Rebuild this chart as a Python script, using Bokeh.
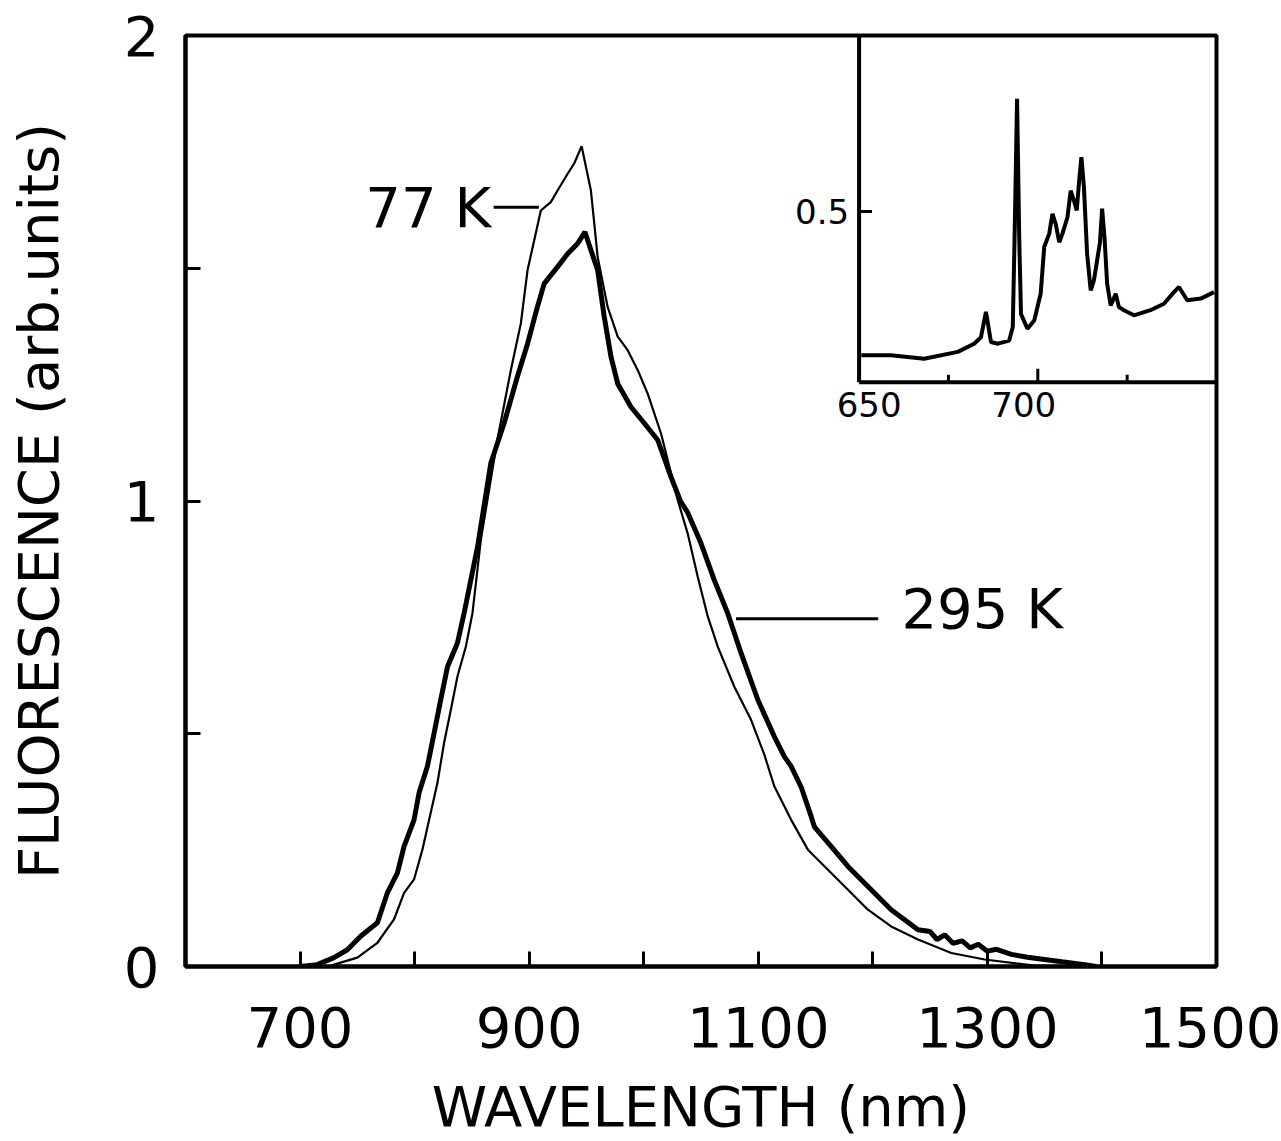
from bokeh.plotting import figure
from bokeh.models import Range1d, FixedTicker
from bokeh.core.properties import value
from bokeh.embed import file_html
from bokeh.resources import INLINE

# ---------------- data ----------------
# 295 K (thick line)
wl_295 = [700, 715, 729.6, 741.3, 752.9, 767.5, 776.2, 785, 790.8, 799.5, 803.9, 811.2, 817,
          822.8, 828.7, 837.4, 843.2, 855, 866.5, 878.1, 889.7, 898.6, 907.2, 913.1, 924.8,
          933.6, 942.3, 948.7, 953.9, 959.8, 965.5, 971.4, 977.3, 988.9, 1000.5, 1012.2,
          1023.8, 1032, 1038.4, 1050, 1061.6, 1073.3, 1085, 1099.6, 1114, 1122.8, 1128.7,
          1137.5, 1146.1, 1149, 1163.6, 1178.3, 1198.6, 1216, 1239.4, 1250, 1256, 1262.7,
          1270, 1278, 1285, 1292, 1300, 1308, 1320.9, 1335, 1350, 1365, 1385, 1395]
fl_295 = [0.0, 0.004, 0.019, 0.036, 0.065, 0.094, 0.158, 0.201, 0.258, 0.315, 0.373, 0.43, 0.501,
          0.573, 0.644, 0.695, 0.759, 0.902, 1.081, 1.167, 1.267, 1.338, 1.417, 1.467, 1.503,
          1.531, 1.553, 1.578, 1.539, 1.496, 1.396, 1.31, 1.252, 1.202, 1.167, 1.131,
          1.052, 1.0, 0.975, 0.909, 0.83, 0.759, 0.673, 0.573, 0.494, 0.451, 0.43,
          0.385, 0.323, 0.30, 0.258, 0.215, 0.165, 0.122, 0.079, 0.075, 0.058, 0.068,
          0.05, 0.055, 0.04, 0.048, 0.033, 0.037, 0.026, 0.02, 0.015, 0.01, 0.004, 0.0]

# 77 K (thin line)
wl_77 = [725, 729.6, 750, 767.5, 782, 790.8, 799.5, 806.8, 814, 819.9, 825.7, 831.6, 837.4,
         844.7, 850.5, 857.8, 872.2, 884, 892.7, 898.6, 910.2, 918.9, 924.8, 933.6, 939.3,
         945.8, 953.9, 959.8, 968.5, 977.3, 986, 994.8, 1003.4, 1015.1, 1029.7, 1038.4,
         1047.1, 1055.9, 1064.6, 1079.1, 1093.7, 1105.3, 1114, 1128.7, 1143.3, 1160.8,
         1178.3, 1195.7, 1216, 1239.4, 1268.5, 1297.6, 1341.3, 1390]
fl_77 = [0.0, 0.004, 0.019, 0.051, 0.101, 0.158, 0.187, 0.251, 0.33, 0.394, 0.48, 0.551, 0.623,
         0.687, 0.759, 0.916, 1.131, 1.281, 1.381, 1.496, 1.624, 1.642, 1.667, 1.703, 1.725,
         1.762, 1.667, 1.524, 1.417, 1.353, 1.324, 1.281, 1.231, 1.145, 1.002, 0.93,
         0.838, 0.752, 0.687, 0.601, 0.53, 0.455, 0.387, 0.315, 0.251, 0.208,
         0.165, 0.122, 0.086, 0.058, 0.029, 0.015, 0.002, 0.0]

# inset spectrum
wl_inset = [650.6, 658.9, 668.2, 677.6, 682.2, 684.1, 685.5, 686.9, 688.8, 692.0, 693.0, 693.6,
            694.2, 694.8, 695.3, 697.1, 699.0, 700.8, 701.8, 703.2, 704.1, 705.0, 706.0, 706.9,
            708.3, 709.2, 710.1, 710.9, 711.5, 712.2, 712.9, 713.8, 714.8, 715.7, 716.6, 717.4,
            718.0, 718.7, 719.4, 720.4, 721.8, 722.7, 724.1, 726.9, 731.5, 735.3, 738.1, 739.5,
            741.8, 745.6, 749.3]
fl_inset = [0.079, 0.079, 0.069, 0.089, 0.113, 0.132, 0.206, 0.118, 0.113, 0.122, 0.162, 0.474,
            0.830, 0.425, 0.200, 0.157, 0.181, 0.259, 0.396, 0.435, 0.493, 0.464, 0.410, 0.435,
            0.483, 0.561, 0.532, 0.503, 0.581, 0.659, 0.572, 0.376, 0.269, 0.298, 0.357, 0.410,
            0.508, 0.418, 0.289, 0.225, 0.259, 0.220, 0.211, 0.196, 0.211, 0.230, 0.264, 0.279,
            0.240, 0.245, 0.264]

x_ticks = [700, 900, 1100, 1300, 1500]
x_minor = [800, 1000, 1200, 1400]
y_ticks = [0, 1, 2]
y_minor = [0.5, 1.5]
inset_x_ticks = [675, 700, 725]
inset_x_labels = [650, 700]
inset_y_ticks = [0.5]
labels = ["77 K", "295 K"]

FONT = "DejaVu Sans"

# ---------------- main figure ----------------
p = figure(width=1281, height=1141, x_range=Range1d(600, 1500), y_range=Range1d(0, 2),
           output_backend="svg", toolbar_location=None,
           min_border_left=185, min_border_right=65, min_border_top=35, min_border_bottom=174)
p.grid.visible = False
p.background_fill_color = "white"
p.border_fill_color = "white"
p.outline_line_color = "black"
p.outline_line_width = 4

p.xaxis.ticker = FixedTicker(ticks=x_ticks, minor_ticks=x_minor)
p.yaxis.ticker = FixedTicker(ticks=y_ticks, minor_ticks=y_minor)
for ax in (p.xaxis[0], p.yaxis[0]):
    ax.axis_line_width = 4
    ax.major_tick_in = 15
    ax.major_tick_out = 0
    ax.minor_tick_in = 15
    ax.minor_tick_out = 0
    ax.major_tick_line_width = 3
    ax.minor_tick_line_width = 3
    ax.major_label_text_font = FONT
    ax.major_label_text_font_size = "56px"
    ax.major_label_text_color = "black"
    ax.axis_label_text_font = FONT
    ax.axis_label_text_font_size = "56px"
    ax.axis_label_text_font_style = "normal"
    ax.axis_label_text_color = "black"

p.xaxis.axis_label = "WAVELENGTH (nm)"
p.xaxis.major_label_standoff = 40
p.xaxis.axis_label_standoff = 24
p.yaxis.axis_label = "FLUORESCENCE (arb.units)"
p.yaxis.major_label_standoff = 26
p.yaxis.axis_label_standoff = 50
p.yaxis.major_label_orientation = "horizontal"

p.line(wl_77, fl_77, line_color="black", line_width=2.2)
p.line(wl_295, fl_295, line_color="black", line_width=5)

# curve labels with leader lines
p.text(x=[757, 1225], y=[1.631, 0.770], text=labels, text_font=value(FONT),
       text_font_size="56px", text_baseline="middle", text_align="left", text_color="black")
p.segment(x0=[869, 1080.6], y0=[1.631, 0.747], x1=[908.5, 1204.7], y1=[1.631, 0.747],
          line_color="black", line_width=3)

# ---------------- inset ----------------
ix = Range1d(650, 750)
iy = Range1d(0, 1.015)
ins = p.subplot(x_source=ix, y_source=iy,
                x_target=Range1d(1188, 1500), y_target=Range1d(1.255, 2.0))
# inset frame (left and bottom edges)
ins.segment(x0=[ix.start, ix.start], y0=[iy.start, iy.start], x1=[ix.start, ix.end],
            y1=[iy.end, iy.start], line_color="black", line_width=4)
# inset ticks
ins.segment(x0=inset_x_ticks, y0=[0] * 3, x1=inset_x_ticks, y1=[0.022, 0.04, 0.022],
            line_color="black", line_width=3)
ins.segment(x0=[ix.start], y0=inset_y_ticks, x1=[ix.start + 3.6], y1=inset_y_ticks,
            line_color="black", line_width=3)
ins.text(x=inset_x_labels, y=[0, 0], text=[str(v) for v in inset_x_labels],
         text_font=value(FONT), text_font_size="34px", text_align="center",
         text_baseline="top", y_offset=10, x_offset=[10, -14], text_color="black")
ins.text(x=[ix.start], y=inset_y_ticks, text=["0.5"], text_font=value(FONT),
         text_font_size="34px", text_align="right", text_baseline="middle",
         x_offset=-10, text_color="black")
ins.line(wl_inset, fl_inset, line_color="black", line_width=4)

open("out.html", "w").write(file_html(p, INLINE))
